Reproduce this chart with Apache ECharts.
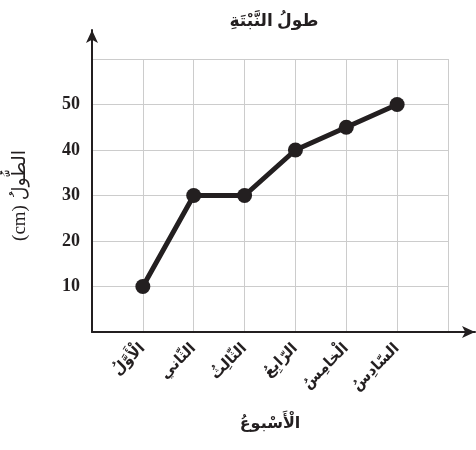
<!DOCTYPE html>
<html>
<head>
<meta charset="utf-8">
<script src="https://cdn.jsdelivr.net/npm/echarts@6/dist/echarts.min.js"></script>
<style>html,body{margin:0;padding:0;background:#fff}#c{width:476px;height:450px}</style>
</head>
<body>
<div id="c"></div>
<script>
const titleText = 'طولُ النَّبْتَةِ';
const xName = 'الْأَسْبوعُ';
const yName = '(cm) الطُّولُ';
const weeks = ['الْأَوَّلُ', 'الثّاني', 'الثّالِثُ', 'الرّابِعُ', 'الْخامِسُ', 'السّادِسُ'];
const heights = [10, 30, 30, 40, 45, 50];
const yTicks = [10, 20, 30, 40, 50];

const ink = '#231f20';
const fontMix = "'Liberation Serif', 'DejaVu Sans', serif";
const chart = echarts.init(document.getElementById('c'), null, {renderer: 'canvas'});
const points = weeks.map((w, i) => [i + 1, heights[i]]);

chart.setOption({
  animation: false,
  backgroundColor: '#fff',
  title: {
    text: titleText, left: 269, top: 8, textAlign: 'center',
    textStyle: {fontFamily: fontMix, fontWeight: 'bold', fontSize: 17, color: ink}
  },
  grid: [
    {left: 92, right: 28, top: 59, bottom: 118},
    {left: 92, right: 1, top: 30, bottom: 118}
  ],
  xAxis: [
    {
      gridIndex: 0, type: 'value', min: 0, max: 7, interval: 1,
      axisLine: {show: false}, axisTick: {show: false},
      splitLine: {show: true, lineStyle: {color: '#cccccc', width: 1}},
      axisLabel: {
        rotate: 45, margin: 14, color: ink, fontWeight: 'bold', fontSize: 15, fontFamily: fontMix,
        formatter: v => (v >= 1 && v <= weeks.length) ? weeks[v - 1] : ''
      },
      name: xName, nameLocation: 'middle', nameGap: 84,
      nameTextStyle: {fontFamily: fontMix, fontWeight: 'bold', fontSize: 16, color: ink}
    },
    {
      gridIndex: 1, type: 'value', min: 0, max: 1,
      axisLine: {show: true, symbol: ['none', 'arrow'], symbolSize: [9, 13], lineStyle: {color: ink, width: 2}},
      axisTick: {show: false}, axisLabel: {show: false}, splitLine: {show: false}
    }
  ],
  yAxis: [
    {
      gridIndex: 0, type: 'value', min: 0, max: 60, interval: 10,
      axisLine: {show: false}, axisTick: {show: false},
      splitLine: {show: true, lineStyle: {color: '#cccccc', width: 1}},
      axisLabel: {
        margin: 12, color: ink, fontWeight: 'bold', fontSize: 18, fontFamily: fontMix,
        formatter: v => yTicks.includes(v) ? String(v) : ''
      },
      name: yName, nameLocation: 'middle', nameGap: 62, nameRotate: 90,
      nameTextStyle: {fontFamily: fontMix, fontWeight: 'normal', fontSize: 19, color: ink}
    },
    {
      gridIndex: 1, type: 'value', min: 0, max: 1,
      axisLine: {show: true, symbol: ['none', 'arrow'], symbolSize: [9, 13], lineStyle: {color: ink, width: 2}},
      axisTick: {show: false}, axisLabel: {show: false}, splitLine: {show: false}
    }
  ],
  series: [{
    type: 'line', xAxisIndex: 0, yAxisIndex: 0, data: points,
    symbol: 'circle', symbolSize: 15,
    lineStyle: {color: ink, width: 5},
    itemStyle: {color: ink},
    z: 5
  }]
});
</script>
</body>
</html>
